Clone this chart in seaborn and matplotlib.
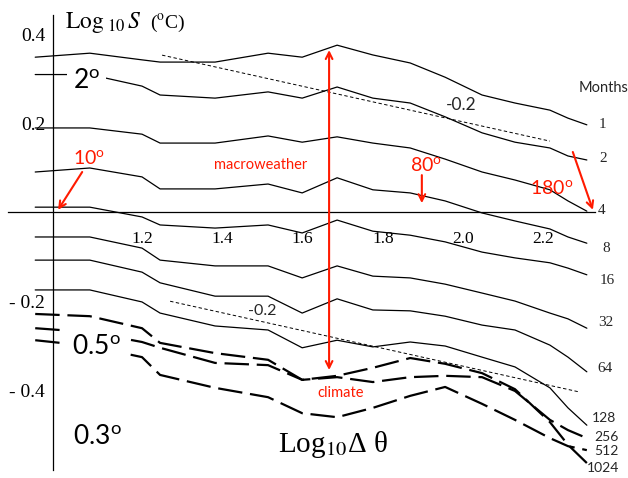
import numpy as np
import pandas as pd
import matplotlib
matplotlib.use("Agg")
import matplotlib.pyplot as plt
import seaborn as sns

# log10 of the angular lag (degrees) at which the structure functions are sampled
log_theta = [0.934, 1.070, 1.200, 1.245, 1.382, 1.514, 1.599, 1.686, 1.775,
             1.868, 1.955, 2.047, 2.129, 2.216, 2.261, 2.308]

# log10 S (deg C) for each averaging period (months)
s_1 = [0.349, 0.358, 0.343, 0.338, 0.338, 0.358, 0.349, 0.376, 0.354,
       0.336, 0.304, 0.264, 0.246, 0.230, 0.212, 0.197]
s_2 = [0.310, 0.310, 0.284, 0.264, 0.257, 0.271, 0.257, 0.282, 0.257,
       0.246, 0.215, 0.179, 0.158, 0.145, 0.127, 0.118]
s_4 = [0.190, 0.190, 0.176, 0.156, 0.156, 0.172, 0.158, 0.170, 0.156,
       0.145, 0.120, 0.091, 0.073, 0.051, 0.026, 0.003]
s_8 = [0.091, 0.100, 0.080, 0.053, 0.053, 0.064, 0.044, 0.078, 0.051,
       0.044, 0.026, -0.001, -0.019, -0.037, -0.055, -0.069]
s_16 = [0.012, 0.012, -0.010, -0.028, -0.035, -0.028, -0.046, -0.017, -0.042,
        -0.051, -0.066, -0.089, -0.102, -0.113, -0.125, -0.140]
s_32 = [-0.055, -0.055, -0.080, -0.107, -0.120, -0.120, -0.147, -0.120, -0.143,
        -0.147, -0.161, -0.181, -0.199, -0.226, -0.239, -0.260]
s_64 = [-0.107, -0.107, -0.134, -0.158, -0.188, -0.188, -0.226, -0.194, -0.219,
        -0.221, -0.233, -0.253, -0.264, -0.298, -0.325, -0.358]
s_128 = [-0.174, -0.174, -0.201, -0.226, -0.255, -0.264, -0.304, -0.287, -0.302,
         -0.291, -0.300, -0.325, -0.347, -0.394, -0.439, -0.478]
s_256 = [-0.260, -0.269, -0.291, -0.304, -0.338, -0.343, -0.376, -0.370, -0.381,
         -0.370, -0.367, -0.370, -0.401, -0.466, -0.489, -0.507]
s_512 = [-0.287, -0.300, -0.325, -0.365, -0.394, -0.415, -0.451, -0.460, -0.439,
         -0.412, -0.392, -0.430, -0.466, -0.507, -0.525, -0.534]
s_1024 = [-0.228, -0.233, -0.260, -0.293, -0.316, -0.331, -0.376, -0.367, -0.349,
          -0.327, -0.340, -0.361, -0.397, -0.471, -0.522, -0.563]

solid_labels = ["1", "2", "4", "8", "16", "32", "64", "128"]
solid_series = [s_1, s_2, s_4, s_8, s_16, s_32, s_64, s_128]
dashed_labels = ["256", "512", "1024"]
dashed_series = [s_256, s_512, s_1024]

# reference power-law slope lines
ref_slope = -0.2
ref_upper_x = [1.250, 2.216]
ref_upper_mid = (1.733, 0.257)
ref_lower_x = [1.270, 2.286]
ref_lower_mid = (1.778, -0.301)

x_major = [1.2, 1.4, 1.6, 1.8, 2.0, 2.2]
y_major = [0.4, 0.2, -0.2, -0.4]
y_major_labels = ["0.4", "0.2", "- 0.2", "- 0.4"]

sns.set_style("white")
plt.rcParams["font.family"] = ["Lato", "DejaVu Sans"]
plt.rcParams["mathtext.fontset"] = "custom"
plt.rcParams["mathtext.rm"] = "Lato"
plt.rcParams["mathtext.it"] = "Lato:italic"
plt.rcParams["mathtext.bf"] = "Lato:bold"

W, H = 628, 478
fig = plt.figure(figsize=(W / 100, H / 100), dpi=100)
ax = fig.add_axes([0, 0, 1, 1])
ax.set_facecolor("white")

long_rows = []
for lab, vals in zip(solid_labels + dashed_labels, solid_series + dashed_series):
    for x, y in zip(log_theta, vals):
        long_rows.append({"log_theta": x, "log_s": y, "months": lab})
df = pd.DataFrame(long_rows)

for lab in solid_labels:
    sub = df[df["months"] == lab]
    sns.lineplot(data=sub, x="log_theta", y="log_s", ax=ax, color="black",
                 linewidth=0.9, estimator=None, sort=False, legend=False)
for lab in dashed_labels:
    sub = df[df["months"] == lab]
    sns.lineplot(data=sub, x="log_theta", y="log_s", ax=ax, color="black",
                 linewidth=1.6, estimator=None, sort=False, legend=False,
                 linestyle=(0, (11, 3.5)))

for xs, (mx, my) in ((ref_upper_x, ref_upper_mid), (ref_lower_x, ref_lower_mid)):
    xs = np.array(xs)
    ys = my + ref_slope * (xs - mx)
    sns.lineplot(x=xs, y=ys, ax=ax, color="black", linewidth=0.7,
                 linestyle=(0, (3.5, 2.5)), legend=False)

# axes drawn through the origin
ax.set_xlim(0.8463, 2.4105)
ax.set_ylim(-0.5966, 0.4775)
for side in ("top", "right"):
    ax.spines[side].set_visible(False)
ax.spines["bottom"].set_position(("data", 0))
ax.spines["bottom"].set_bounds(0.866, 2.328)
ax.spines["left"].set_position(("data", 0.978))
ax.spines["left"].set_bounds(-0.579, 0.444)
for side in ("bottom", "left"):
    ax.spines[side].set_linewidth(0.9)
    ax.spines[side].set_color("black")

ax.set_xticks(x_major)
ax.set_xticklabels([f"{v:.1f}" for v in x_major])
ax.set_xticks(np.round(np.arange(0.9, 2.31, 0.05), 2), minor=True)
ax.set_yticks(y_major)
ax.set_yticklabels(y_major_labels)
ax.set_yticks(np.round(np.arange(-0.55, 0.41, 0.05), 2), minor=True)
ax.tick_params(axis="x", which="major", direction="in", length=8.5, width=0.9,
               pad=13, labelsize=12.5, colors="black")
ax.tick_params(axis="x", which="minor", direction="in", length=4.5, width=0.9)
ax.tick_params(axis="y", which="both", direction="in", length=5, width=0.9,
               pad=5.5, labelsize=14, colors="black")
for lbl in ax.get_xticklabels() + ax.get_yticklabels():
    lbl.set_family(["Liberation Serif"])
ax.set_xlabel("")
ax.set_ylabel("")


def fxy(px, py):
    return px / W, 1 - py / H


def deg_text(px, py, main, size, color="black", box=False):
    kw = dict(fontsize=size, color=color, ha="left", va="center", zorder=5)
    if box:
        kw["bbox"] = dict(boxstyle="square,pad=0.22", fc="white", ec="none")
    return fig.text(*fxy(px, py), main + r"$^{\mathrm{o}}$", **kw)


# axis titles
fig.text(*fxy(65, 28), r"$\mathrm{Log}_{\ 10}\,S$", fontsize=17, ha="left",
         va="baseline", color="black", math_fontfamily="stix")
fig.text(*fxy(150, 28), r"($^{\mathrm{o}}$C)", fontsize=14, ha="left",
         va="baseline", color="black", family=["Liberation Serif"],
         math_fontfamily="stix")
fig.text(*fxy(278, 452), "Log" + r"$_{10}$" + "Δ θ", fontsize=21,
         ha="left", va="baseline", color="black",
         family=["Liberation Serif", "DejaVu Serif"], math_fontfamily="stix")

# scale markers along the vertical axis
deg_text(73, 81, "2", 19, box=True)
deg_text(72, 347, "0.5", 19, box=True)
deg_text(73, 437, "0.3", 19)

# slope annotations
fig.text(*fxy(461, 105), "-0.2", fontsize=12.5, ha="center", va="center")
fig.text(*fxy(262, 311), "-0.2", fontsize=11.5, ha="center", va="center")

# averaging periods
fig.text(*fxy(604, 88), "Months", fontsize=10.5, ha="center", va="center")
label_px = {"1": (602, 125), "2": (603, 159), "4": (602, 211), "8": (606, 248),
            "16": (607, 280), "32": (606, 323), "64": (605, 369),
            "128": (604, 418), "256": (606, 437), "512": (606, 451),
            "1024": (603, 468)}
for lab in solid_labels + dashed_labels:
    serif = lab in ("1", "2", "4", "8", "16", "32", "64")
    fig.text(*fxy(*label_px[lab]), lab, fontsize=11 if serif else 10,
             ha="center", va="center",
             family=["Liberation Serif"] if serif else ["Lato"])

# regimes and angular scales
red = "#ff1a00"
arrow = dict(arrowstyle="->", color=red, lw=1.5, shrinkA=0, shrinkB=0,
             mutation_scale=12)
ax.annotate("", xy=(1.666, 0.365), xytext=(1.666, -0.354),
            arrowprops=dict(arrow, arrowstyle="<->"))
fig.text(*fxy(261, 165), "macroweather", fontsize=10.5, color=red,
         ha="center", va="center")
fig.text(*fxy(341, 393), "climate", fontsize=10.5, color=red,
         ha="center", va="center")

deg_text(73, 158, "10", 14, color=red)
ax.annotate("", xy=(0.991, 0.006), xytext=(1.051, 0.091), arrowprops=arrow)
deg_text(410, 165, "80", 14, color=red)
ax.annotate("", xy=(1.897, 0.021), xytext=(1.897, 0.084), arrowprops=arrow)
deg_text(530, 188, "180", 14, color=red)
ax.annotate("", xy=(2.323, 0.006), xytext=(2.273, 0.136), arrowprops=arrow)

fig.savefig("out.png", dpi=100, facecolor="white")
